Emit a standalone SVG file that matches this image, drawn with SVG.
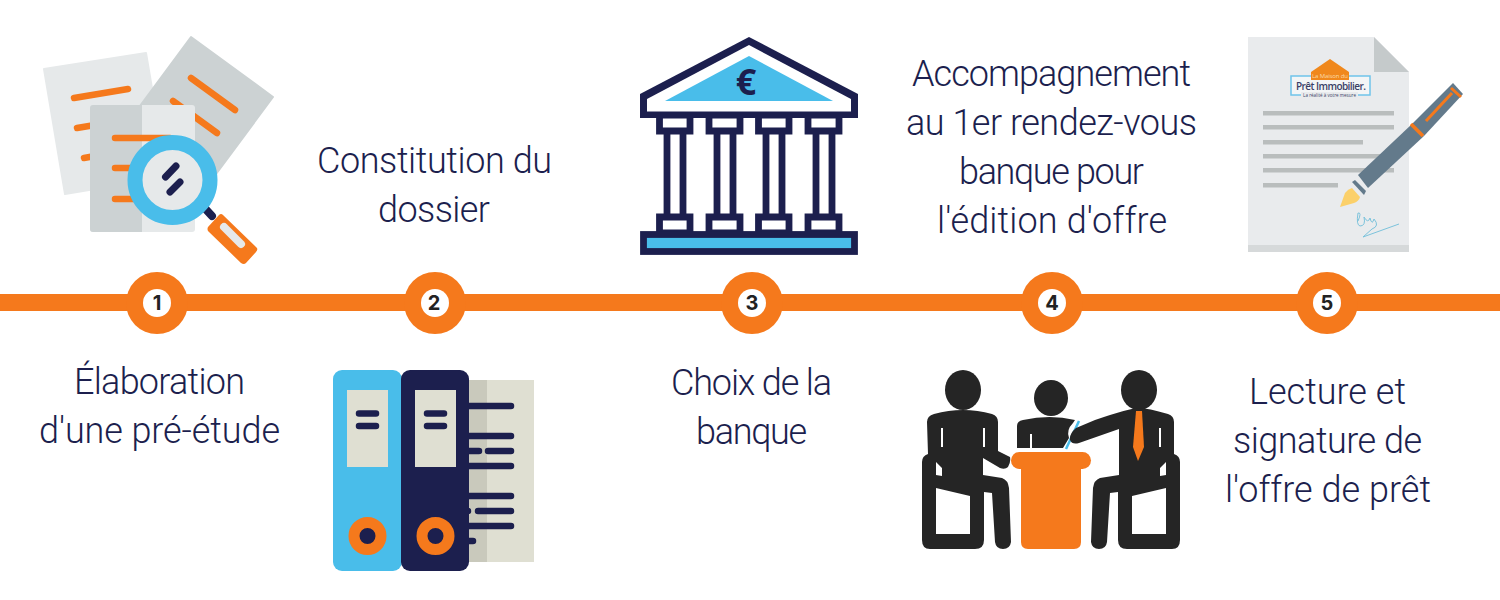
<svg xmlns="http://www.w3.org/2000/svg" width="1500" height="600" viewBox="0 0 1500 600">
<style>
.t{font-family:"Roboto","Inter","Liberation Sans",sans-serif;font-size:36px;font-weight:300;fill:#1c1f4e;text-anchor:middle;font-variant-ligatures:none}
.n{font-family:"Inter","Liberation Sans",sans-serif;font-size:20px;font-weight:700;fill:#222;text-anchor:middle}
.o{fill:#f5791c}.ol{stroke:#f5791c;stroke-linecap:round;fill:none}
.d{fill:#1c1f4e}.dl{stroke:#1c1f4e;stroke-linecap:round;fill:none}
.b{fill:#49bdea}.k{fill:#252525}
.g{fill:#b9bdbd}
</style>
<rect width="1500" height="600" fill="#fff"/>
<g id="connectors"><rect x="0" y="294" width="1500" height="17" fill="#f5791c"/></g>
<g id="step1">
<circle class="o" cx="157" cy="303" r="31"/><circle cx="157" cy="303" r="14" fill="#fff"/><text class="n" x="157" y="310">1</text>
<polygon points="44,69 146,53 167,177 65,194" fill="#e6e9ea" stroke="#e6e9ea" stroke-width="2" stroke-linejoin="round"/>
<polygon points="191,37 273,97 199,197 117,137" fill="#ccd2d3" stroke="#ccd2d3" stroke-width="2" stroke-linejoin="round"/>
<path class="ol" stroke-width="6.500" d="M74,98 L128,89 M77,128 L95,125 M84,158 L95,156 M191,78 L235,110 M173,101 L217,133"/>
<rect x="90" y="105" width="105" height="127" rx="3" fill="#e6e9ea"/>
<path d="M142,105 H93 a3,3 0 0 0 -3,3 V229 a3,3 0 0 0 3,3 H142 Z" fill="#ccd2d3"/>
<path class="ol" stroke-width="6.500" d="M115,138 H170 M115,168 H140 M115,199 H140"/>
<path class="dl" stroke-width="8" d="M200,203 L212,216"/>
<circle cx="172.500" cy="180" r="37.500" fill="#e6e9ea" stroke="#49bdea" stroke-width="15"/>
<path class="dl" stroke-width="7" d="M165.500,177 L176,166 M170,192 L180,182"/>
<path class="o" d="M223,215 L257,248 Q258,250 256,252 L246,263 Q244,265 241,263 L208,231 Q207,229 208,227 L219,215 Q221,213 223,215 Z"/>
<path d="M224,227 L241,244" stroke="#e6e9ea" stroke-width="8" stroke-linecap="round"/>
<text class="t" x="159.500" y="394" textLength="171">Élaboration</text><text class="t" x="159.500" y="443" textLength="241">d'une pré-étude</text>
</g>
<g id="step2">
<circle class="o" cx="435" cy="303" r="31"/><circle cx="435" cy="303" r="14" fill="#fff"/><text class="n" x="434" y="310">2</text>
<text class="t" x="434.500" y="173" textLength="235">Constitution du</text><text class="t" x="434" y="222" textLength="112">dossier</text>
<rect x="469" y="380" width="65" height="182" fill="#dfdfd2"/><rect x="469" y="380" width="18" height="182" fill="#c9c9bc"/>
<path class="dl" stroke-width="6.500" d="M465,406 H511 M465,436 H511 M465,451 H479 M488,451 H511 M465,466 H511 M465,496 H511 M465,511 H468 M478,511 H511 M465,526 H511 M465,541 H473"/>
<rect x="333" y="370" width="69" height="201" rx="9" class="b"/>
<rect x="401" y="370" width="68" height="201" rx="9" class="d"/>
<rect x="347" y="390" width="41" height="77" fill="#dfdfd2"/><rect x="415" y="390" width="41" height="77" fill="#dfdfd2"/>
<path class="dl" stroke-width="6.500" d="M359,413.500 H376 M359,426 H376 M427,413.500 H444 M427,426 H444"/>
<circle cx="367.500" cy="536" r="13.500" class="d" stroke="#f5791c" stroke-width="11"/>
<circle cx="435.500" cy="536" r="13.500" class="d" stroke="#f5791c" stroke-width="11"/>
</g>
<g id="step3">
<circle class="o" cx="752" cy="303" r="31"/><circle cx="752" cy="303" r="14" fill="#fff"/><text class="n" x="752" y="310">3</text>
<g fill="#fff" stroke="#1c1f4e" stroke-width="6.800">
<path d="M659.500,115 H690 V131 H659.500 Z M667,131 H683 V217 H667 Z M659.500,217 H690 V233 H659.500 Z"/>
<path d="M709,115 H740 V131 H709 Z M717,131 H733 V217 H717 Z M709,217 H740 V233 H709 Z"/>
<path d="M758.500,115 H789 V131 H758.500 Z M766,131 H782 V217 H766 Z M758.500,217 H789 V233 H758.500 Z"/>
<path d="M808,115 H839 V131 H808 Z M816,131 H832 V217 H816 Z M808,217 H839 V233 H808 Z"/>
<rect x="643.500" y="234.500" width="211" height="17" class="b"/>
</g>
<path d="M749,37 L858,94 V118 H640 V94 Z" class="d"/>
<path d="M749,45 L851,99 V111.500 H647 V99 Z" fill="#fff"/>
<polygon points="749,56 833,101 665,101" class="b"/>
<text x="746" y="95" font-family="Open Sans,Liberation Sans,sans-serif" font-size="36" font-weight="700" fill="#1c1f4e" text-anchor="middle">€</text>
<text class="t" x="751.500" y="395" textLength="161">Choix de la</text><text class="t" x="751.500" y="444" textLength="111">banque</text>
</g>
<g id="step4">
<circle class="o" cx="1052" cy="303" r="31"/><circle cx="1052" cy="303" r="14" fill="#fff"/><text class="n" x="1052" y="310">4</text>
<text class="t" x="1051.500" y="85.500" textLength="279">Accompagnement</text><text class="t" x="1051.500" y="134.500" textLength="291">au 1er rendez-vous</text><text class="t" x="1051.500" y="183.500" textLength="185">banque pour</text><text class="t" x="1052" y="232.500" textLength="230">l'édition d'offre</text>
<ellipse class="k" cx="963" cy="390" rx="18" ry="20"/>
<path class="k" d="M927,422 Q927,416 934,414 Q963,406 992,414 Q998,416 998,422 V451 L1010,457 Q1011,462 1008,467 Q1005,470 1000,468 L983,458 V475 L1002,478 Q1008,480 1009,488 L1011,542 Q1010,549 1003,549 Q996,549 995,542 L992,493 L984,492 V540 Q984,549 975,549 H930 Q922,549 922,540 V462 Q922,456 928,454 Z"/>
<path fill="#fff" d="M941,428 H943 V447 H941 Z M983,428 H985 V447 H983 Z M936,462 L942,468 V476 L936,475 Z M936,488 L970,496 V534 H936 Z"/>
<ellipse class="k" cx="1051" cy="398" rx="17" ry="18"/>
<path class="k" d="M1017,426 Q1017,421 1023,420 Q1050,414 1075,420 L1073,423 Q1066,430 1069,438 L1063,448 H1017 Z"/>
<path fill="#fff" d="M1030,434 H1032 V448 H1030 Z"/>
<path d="M1066,449 L1079,421" stroke="#49bdea" stroke-width="2.500"/>
<rect x="1011" y="452" width="80" height="17" rx="8.500" class="o"/>
<path class="o" d="M1021,465 H1081 V542 Q1081,549 1074,549 H1028 Q1021,549 1021,542 Z"/>
<ellipse class="k" cx="1139" cy="390" rx="18" ry="20"/>
<path class="k" d="M1174,422 Q1174,416 1168,414 Q1148,408 1139,408 Q1130,408 1095,420 L1076,428 Q1069,434 1070,440 Q1072,445 1079,443 L1119,429 V475 L1100,478 Q1094,480 1093,488 L1091,542 Q1092,549 1099,549 Q1106,549 1107,542 L1110,493 L1118,492 V540 Q1118,549 1127,549 H1172 Q1180,549 1180,540 V462 Q1180,456 1174,454 Z"/>
<path fill="#fff" d="M1159,428 H1161 V447 H1159 Z M1166,462 L1160,468 V476 L1166,475 Z M1166,488 L1132,496 V534 H1166 Z"/>
<path class="o" d="M1136,411 H1142 L1144,447 L1138,461 L1133,447 Z"/>
</g>
<g id="step5">
<circle class="o" cx="1327" cy="303" r="31"/><circle cx="1327" cy="303" r="14" fill="#fff"/><text class="n" x="1327" y="310">5</text>
<polygon points="1248,37 1374,37 1409,72 1409,252 1248,252" fill="#e9ebed"/>
<rect x="1248" y="245" width="161" height="7" fill="#d6d9da"/>
<polygon points="1374,37 1409,72 1374,72" fill="#c5cacb"/>
<rect x="1291" y="76" width="79" height="19" fill="#f3f5f6" stroke="#6fc4ea" stroke-width="1.500"/>
<polygon points="1311,72 1330,59 1349,72 1349,80 1311,80" fill="#f0881c"/>
<text x="1330" y="77.500" font-family="Open Sans,Liberation Sans,sans-serif" font-size="6" fill="#fbd9a8" text-anchor="middle" textLength="36">La Maison du</text>
<text x="1331" y="90" font-family="Open Sans,Liberation Sans,sans-serif" font-size="10" font-weight="600" fill="#3a3f66" text-anchor="middle" textLength="70">Prêt Immobilier.</text>
<rect x="1301" y="92" width="57" height="5" fill="#e9ebed"/>
<text x="1329.500" y="96.500" font-family="Open Sans,Liberation Sans,sans-serif" font-size="4.500" fill="#3a3f66" text-anchor="middle" textLength="53">La réalité à votre mesure</text>
<g class="g"><rect x="1263" y="111" width="131" height="4.500"/><rect x="1263" y="125" width="131" height="4.500"/><rect x="1263" y="140" width="100" height="4.500"/><rect x="1263" y="154" width="131" height="4.500"/><rect x="1263" y="168" width="131" height="4.500"/><rect x="1263" y="183" width="75" height="4.500"/></g>
<path d="M1340,207 L1345,193 Q1348,189 1352,188 L1360,197 Q1359,201 1354,203 Z" fill="#fbd06a"/>
<path d="M1352,182 L1355,180 L1366,191 L1364,195 Z" fill="#637a8b"/>
<path d="M1358,175 L1412,124 L1424,136 L1368,188 Z" fill="#637a8b"/>
<path d="M1412,124 L1453,83 L1463,94 L1424,136 Z" fill="#637a8b"/>
<path d="M1411,124 L1423,136" stroke="#f5791c" stroke-width="3.500"/>
<path d="M1451,88 L1461,97 M1452,93 L1426,121" stroke="#f5791c" stroke-width="3" fill="none"/>
<path d="M1358,221 Q1362,212 1358,213 Q1356,225 1360,226 Q1366,226 1364,217 Q1368,224 1370,218 Q1372,226 1374,219 Q1380,226 1372,229 L1363,237 L1399,224" stroke="#7cc3dc" stroke-width="1" fill="none"/>
<text class="t" x="1327.500" y="404" textLength="157">Lecture et</text><text class="t" x="1327.500" y="453" textLength="189">signature de</text><text class="t" x="1328" y="502" textLength="206">l'offre de prêt</text>
</g>
</svg>
